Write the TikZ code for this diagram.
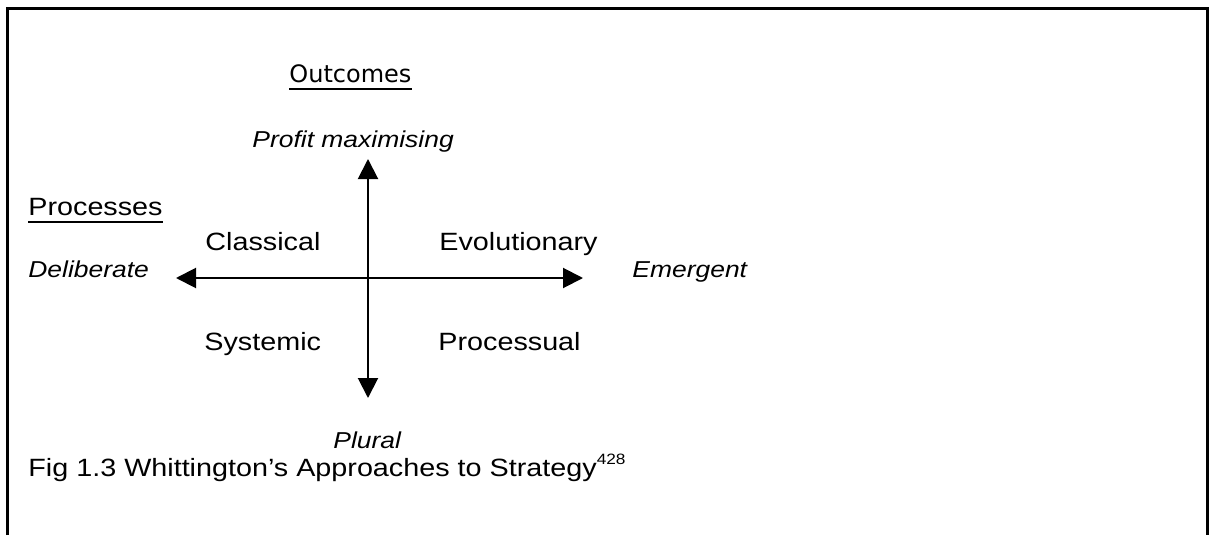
\documentclass[tikz,border=0pt]{standalone}
\usepackage{fontspec}
\setmainfont{Liberation Sans}[FakeStretch=1.15]
\newfontfamily\headfont{DejaVu Sans}
\usetikzlibrary{arrows.meta}
\begin{document}
\begin{tikzpicture}[x=0.5pt,y=-0.5pt,
  lbl/.style={anchor=base west,inner sep=0pt,font=\fontsize{12.5}{15}\selectfont},
  pole/.style={anchor=base west,inner sep=0pt,font=\fontsize{11.5}{14}\selectfont\itshape},
  head/.style={anchor=base west,inner sep=0pt},
  ul/.style={line width=1pt},
  axis/.style={line width=1pt,{Triangle[length=10pt,width=10pt]}-{Triangle[length=10pt,width=10pt]}},
  frame/.style={line width=1.5pt}]
  \useasboundingbox (0,0) rectangle (1209,535);
  % open frame around the figure
  \draw[frame] (7.5,535) -- (7.5,9) -- (1207.5,9) -- (1207.5,535);

  % headings
  \node[head,font=\headfont\fontsize{12}{14}\selectfont] (oc) at (289,83) {Outcomes};
  \draw[ul] ([yshift=-2.5pt]oc.south west) -- ([yshift=-2.5pt]oc.south east);
  \node[lbl] (pr) at (28,215.5) {Processes};
  \draw[ul] ([yshift=-2.7pt]pr.south west) -- ([yshift=-2.7pt]pr.south east);

  % poles of the two axes
  \node[pole] (pm) at (252,148) {Profit maximising};
  \node[pole] (pl) at (333,448) {Plural};
  \node[pole] (de) at (28,277) {Deliberate};
  \node[pole] (em) at (632,277) {Emergent};

  % axes
  \coordinate (vt) at (368,159);
  \coordinate (vb) at (368,398);
  \coordinate (hl) at (176,278);
  \coordinate (hr) at (583,278);
  \draw[axis] (vb) -- (vt);
  \draw[axis] (hl) -- (hr);

  % quadrants
  \node[lbl] (cl) at (205,250.5) {Classical};
  \node[lbl] (ev) at (439,250.5) {Evolutionary};
  \node[lbl] (sy) at (204,350) {Systemic};
  \node[lbl] (ps) at (438,350) {Processual};

  % caption
  \node[lbl] (cap) at (28,476) {Fig 1.3 Whittington’s Approaches to Strategy\raisebox{6pt}{\fontsize{7.5}{9}\selectfont 428}};
\end{tikzpicture}
\end{document}
